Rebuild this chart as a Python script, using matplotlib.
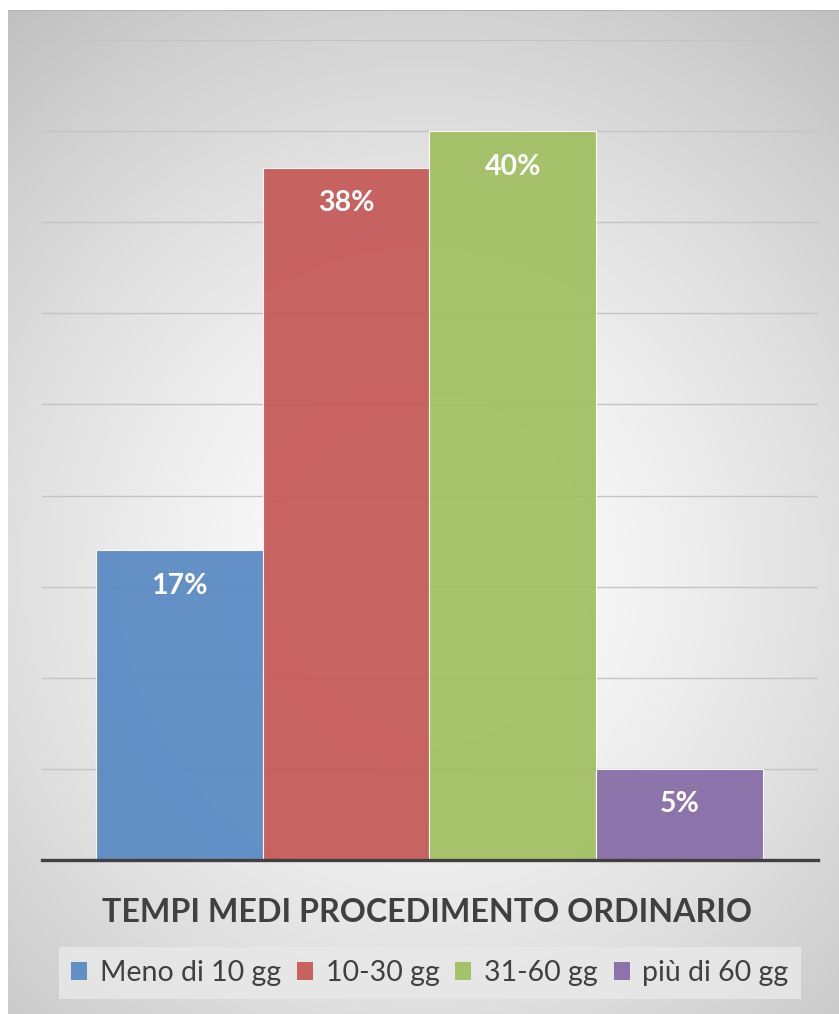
import matplotlib.pyplot as plt
import numpy as np
from matplotlib.patches import Patch

categories = ["Meno di 10 gg", "10-30 gg", "31-60 gg", "più di 60 gg"]
values = [17, 38, 40, 5]
labels = ["17%", "38%", "40%", "5%"]
colors = ["#5788c2", "#c45755", "#a0bf60", "#856aa6"]
title = "TEMPI MEDI PROCEDIMENTO ORDINARIO"

plt.rcParams['font.family'] = ['Lato', 'DejaVu Sans']

W, H = 839, 1014
fig = plt.figure(figsize=(W / 100, H / 100), dpi=100)
fig.patch.set_facecolor("white")

# radial gray gradient behind the chart
bg = fig.add_axes([8 / W, 0, (W - 8) / W, (H - 10) / H], zorder=-2)
yy, xx = np.mgrid[0:1004, 0:831]
r = np.hypot(xx - 415, (yy - 560) * 0.95) / 660
v = 1 - 0.24 * np.clip(r, 0, 1.2) ** 1.4
img = np.dstack([v, v, v])
bg.imshow(img, aspect="auto", extent=(0, 1, 0, 1), origin="upper")
bg.plot([0, 1], [1, 1], color="#b4b4b4", lw=1.5, transform=bg.transAxes)
bg.axis("off")

ax = fig.add_axes([42 / W, (H - 860) / H, 776 / W, 820 / H])
ax.patch.set_alpha(0)
x = np.arange(len(values))
bars = ax.bar(x, values, width=1.0, color=colors, alpha=0.92,
              edgecolor=(1, 1, 1, 0.5), linewidth=0.8, zorder=2)

for xi, val, lab in zip(x, values, labels):
    ax.annotate(lab, (xi, val), xytext=(0, -25.5), textcoords="offset points",
                ha="center", va="center", color="white", fontsize=20.5,
                fontweight="bold", zorder=3)

ax.set_ylim(0, 45)
ax.set_xlim(-0.824, 3.83)
ax.set_yticks(np.arange(5, 50, 5))
ax.yaxis.grid(True, color="#c4c4c4", lw=1.0, zorder=0)
ax.set_axisbelow(True)
ax.tick_params(left=False, bottom=False, labelleft=False, labelbottom=False)
for s in ["top", "right", "left"]:
    ax.spines[s].set_visible(False)
ax.spines["bottom"].set_color("#404040")
ax.spines["bottom"].set_linewidth(2.4)
ax.spines["bottom"].set_zorder(4)

fig.text(427 / W, 1 - 913 / H, title, ha="center", va="center",
         fontsize=23.2, fontweight="bold", color="#404040")

handles = [Patch(facecolor=c, alpha=0.92, edgecolor="none") for c in colors]
leg = fig.legend(handles, categories, loc="center", ncol=4,
                 bbox_to_anchor=(430 / W, 1 - 973 / H), frameon=True,
                 fontsize=20.5, handlelength=0.56, handleheight=0.6,
                 handletextpad=0.45, columnspacing=0.55, borderpad=0.45,
                 borderaxespad=0, labelcolor="#404040")
frame = leg.get_frame()
frame.set_facecolor("#e8e8e8")
frame.set_alpha(0.85)
frame.set_edgecolor("none")
frame.set_boxstyle("square", pad=0)

fig.savefig("out.png", dpi=100)
